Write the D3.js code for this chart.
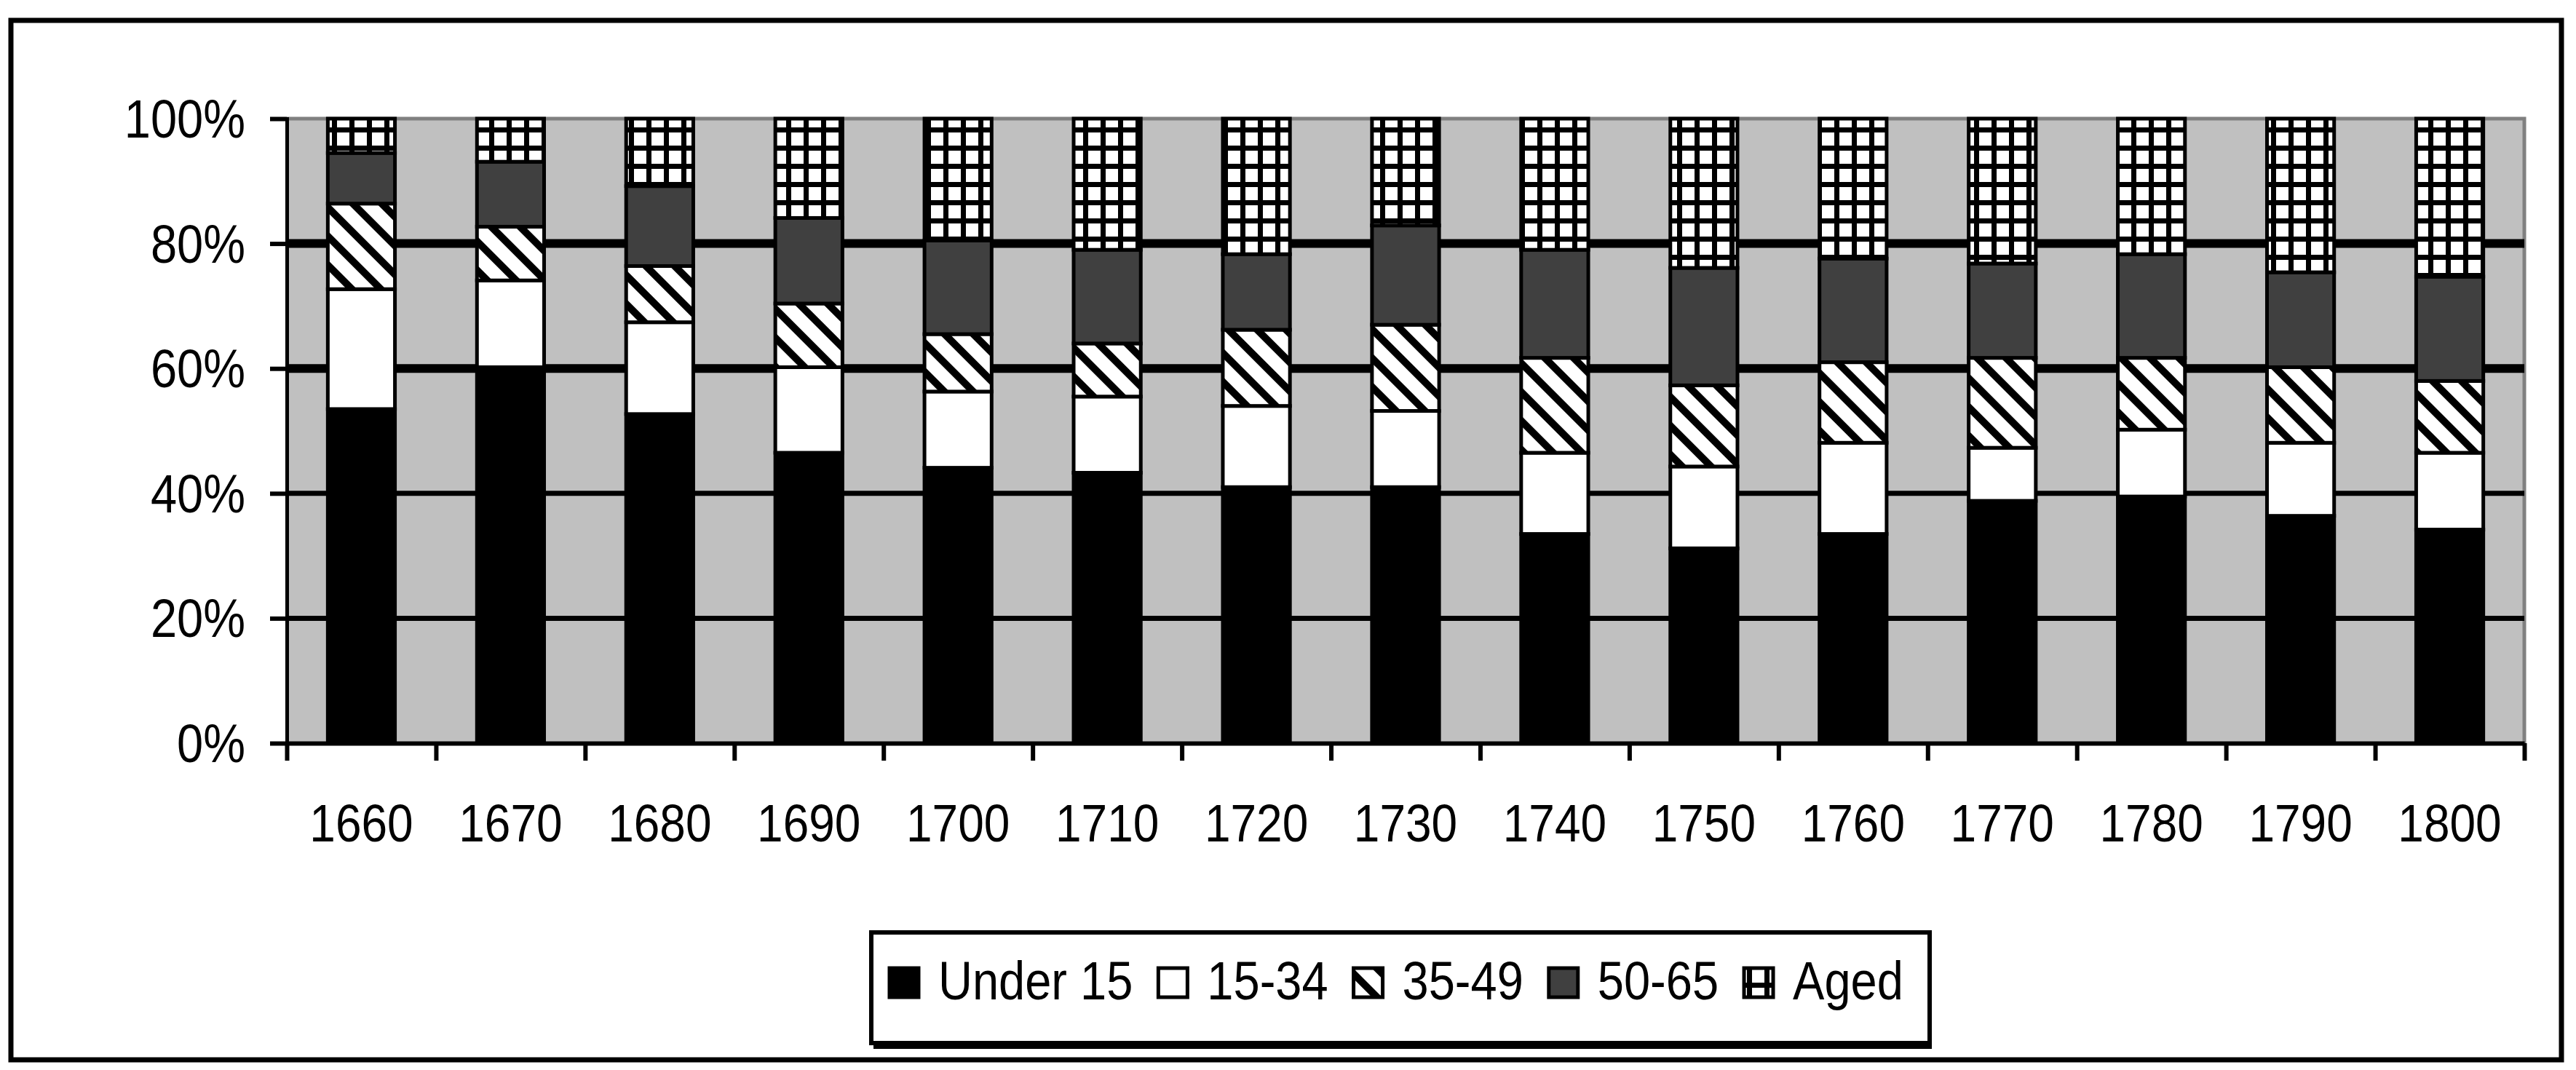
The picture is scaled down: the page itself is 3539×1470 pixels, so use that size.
<!DOCTYPE html>
<html lang="en">
<head>
<meta charset="UTF-8">
<title>Age structure 1660-1800</title>
<script src="https://d3js.org/d3.v7.min.js"></script>
<style>
  body { margin: 0; background: #fff; }
  text { font-family: "Liberation Sans", Arial, sans-serif; fill: #000; }
</style>
</head>
<body>
<div id="chart"></div>
<script>
// data (percent of population)
const years = ["1660","1670","1680","1690","1700","1710","1720","1730","1740","1750","1760","1770","1780","1790","1800"];
const seriesNames = ["Under 15", "15-34", "35-49", "50-65", "Aged"];
const under15 = [53.5, 60.2, 52.7, 46.5, 44.1, 43.3, 41.0, 41.0, 33.5, 31.2, 33.5, 38.8, 39.5, 36.4, 34.2];
const age15to34 = [19.2, 13.9, 14.7, 13.7, 12.2, 12.2, 13.0, 12.2, 13.0, 13.1, 14.6, 8.5, 10.7, 11.7, 12.3];
const age35to49 = [13.7, 8.6, 9.0, 10.2, 9.2, 8.5, 12.2, 13.8, 15.2, 13.0, 12.9, 14.4, 11.5, 12.1, 11.5];
const age50to65 = [8.1, 10.4, 12.8, 13.7, 15.0, 15.0, 12.1, 15.9, 17.3, 18.8, 16.6, 15.1, 16.6, 15.2, 16.7];
const aged = [5.5, 6.9, 10.8, 15.9, 19.5, 21.0, 21.7, 17.1, 21.0, 23.9, 22.4, 23.2, 21.7, 24.6, 25.3];
const yTicks = [0, 20, 40, 60, 80, 100];

const W = 3539, H = 1470;
const plot = { left: 394, right: 3468, top: 163, bottom: 1021 };
const fills = ["#000", "#fff", "url(#hatch)", "#404040", "url(#grid)"];
const stretch = "scale(1,1.13)";

const rows = years.map((y, i) => ({
  year: y,
  "Under 15": under15[i], "15-34": age15to34[i], "35-49": age35to49[i],
  "50-65": age50to65[i], "Aged": aged[i]
}));
const stacked = d3.stack().keys(seriesNames)(rows);

const svg = d3.select("#chart").append("svg")
  .attr("width", W).attr("height", H);

// patterns
const defs = svg.append("defs");
const hatch = defs.append("pattern")
  .attr("id", "hatch").attr("patternUnits", "userSpaceOnUse")
  .attr("width", 28).attr("height", 28)
  .attr("patternTransform", "rotate(-45)");
hatch.append("rect").attr("width", 28).attr("height", 28).attr("fill", "#fff");
hatch.append("rect").attr("width", 10).attr("height", 28).attr("fill", "#000");

const grid = defs.append("pattern")
  .attr("id", "grid").attr("patternUnits", "userSpaceOnUse")
  .attr("width", 24).attr("height", 25);
grid.append("rect").attr("width", 24).attr("height", 25).attr("fill", "#fff");
grid.append("rect").attr("width", 7).attr("height", 25).attr("fill", "#000");
grid.append("rect").attr("width", 24).attr("height", 7).attr("fill", "#000");

// outer frame
svg.append("rect").attr("x", 15).attr("y", 28).attr("width", 3504).attr("height", 1428)
  .attr("fill", "#fff").attr("stroke", "#000").attr("stroke-width", 7);

const x = d3.scaleBand().domain(years).range([plot.left, plot.right])
  .paddingInner(0.55).paddingOuter(0.275);
const y = d3.scaleLinear().domain([0, 100]).range([plot.bottom, plot.top]);

// plot background
svg.append("rect")
  .attr("x", plot.left).attr("y", plot.top)
  .attr("width", plot.right - plot.left).attr("height", plot.bottom - plot.top)
  .attr("fill", "#c0c0c0");
svg.append("path")
  .attr("d", `M${plot.left},${plot.top}H${plot.right}V${plot.bottom}`)
  .attr("fill", "none").attr("stroke", "#808080").attr("stroke-width", 5);

// gridlines
svg.append("g").selectAll("line")
  .data(yTicks.filter(t => t > 0 && t < 100))
  .join("line")
  .attr("x1", plot.left).attr("x2", plot.right)
  .attr("y1", d => y(d)).attr("y2", d => y(d))
  .attr("stroke", "#000")
  .attr("stroke-width", d => d >= 60 ? 12 : 7);

// bars
svg.append("g").selectAll("g")
  .data(stacked)
  .join("g")
  .attr("fill", (d, i) => fills[i])
  .selectAll("rect")
  .data(d => d)
  .join("rect")
  .attr("x", d => x(d.data.year))
  .attr("y", d => y(d[1]))
  .attr("width", x.bandwidth())
  .attr("height", d => y(d[0]) - y(d[1]))
  .attr("stroke", "#000")
  .attr("stroke-width", 5);

// y axis
const yAxis = svg.append("g")
  .attr("transform", `translate(${plot.left},0)`)
  .call(d3.axisLeft(y).tickValues(yTicks).tickSize(23).tickFormat(""));
yAxis.select(".domain").attr("stroke", "#000").attr("stroke-width", 5);
yAxis.selectAll(".tick line").attr("stroke", "#000").attr("stroke-width", 6);

svg.append("g").selectAll("text")
  .data(yTicks)
  .join("text")
  .attr("transform", d => `translate(337,${y(d) + 26}) ${stretch}`)
  .attr("text-anchor", "end")
  .attr("font-size", 65)
  .text(d => d + "%");

// x axis: ticks between categories
const xEdge = d3.scaleLinear().domain([0, years.length]).range([plot.left, plot.right]);
const xAxis = svg.append("g")
  .attr("transform", `translate(0,${plot.bottom})`)
  .call(d3.axisBottom(xEdge).tickValues(d3.range(years.length + 1)).tickSize(24).tickFormat("").tickSizeOuter(0));
xAxis.select(".domain").attr("stroke", "#000").attr("stroke-width", 6);
xAxis.selectAll(".tick line").attr("stroke", "#000").attr("stroke-width", 6);

svg.append("g").selectAll("text")
  .data(years)
  .join("text")
  .attr("transform", d => `translate(${x(d) + x.bandwidth() / 2},1156) ${stretch}`)
  .attr("text-anchor", "middle")
  .attr("font-size", 64)
  .text(d => d);

// legend
const lg = { x: 1197, y: 1281, w: 1454, h: 152 };
svg.append("rect").attr("x", lg.x + 3).attr("y", lg.y + 8).attr("width", lg.w).attr("height", lg.h)
  .attr("fill", "#000");
svg.append("rect").attr("x", lg.x).attr("y", lg.y).attr("width", lg.w).attr("height", lg.h)
  .attr("fill", "#fff").attr("stroke", "#000").attr("stroke-width", 6);

let lx = lg.x + 25;
seriesNames.forEach((name, i) => {
  svg.append("rect")
    .attr("x", lx).attr("y", 1330).attr("width", 40).attr("height", 40)
    .attr("fill", fills[i]).attr("stroke", "#000").attr("stroke-width", 5);
  const t = svg.append("text")
    .attr("transform", `translate(${lx + 67},1373) ${stretch}`)
    .attr("font-size", 65)
    .text(name);
  lx += 67 + t.node().getComputedTextLength() + 35;
});
</script>
</body>
</html>
